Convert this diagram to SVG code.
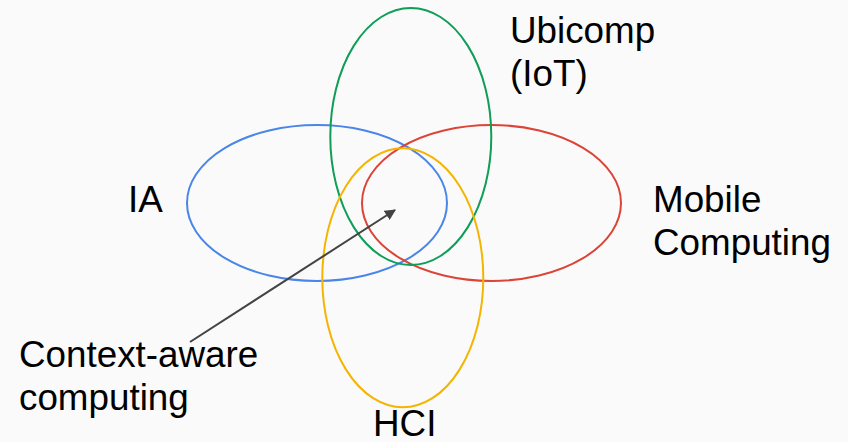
<svg xmlns="http://www.w3.org/2000/svg" width="848" height="442" viewBox="0 0 848 442">
<style>
.e{fill:none;stroke-width:2}
.t{font-family:"Liberation Sans",Arial,sans-serif;font-size:36.8px;fill:#000}
</style>
<defs>
<marker id="ah" viewBox="0 0 10 10" refX="9" refY="5" markerWidth="5.5" markerHeight="5.5" orient="auto" markerUnits="strokeWidth">
<path d="M0,0 L10,5 L0,10 z" fill="#434343"/>
</marker>
</defs>
<rect width="848" height="442" fill="#fafafa"/>
<g id="ia"><ellipse class="e" cx="317" cy="203" rx="130" ry="78" stroke="#4a86e8"/><text class="t" x="128" y="212">IA</text></g>
<g id="mobile"><ellipse class="e" cx="491.5" cy="203" rx="129.5" ry="78" stroke="#db4437"/><text class="t" x="653" y="212">Mobile</text><text class="t" x="653" y="255">Computing</text></g>
<g id="ubicomp"><ellipse class="e" cx="410.8" cy="136.5" rx="80.5" ry="128.5" stroke="#0f9d58"/><text class="t" x="510" y="43">Ubicomp</text><text class="t" x="510" y="86">(IoT)</text></g>
<g id="hci"><ellipse class="e" cx="402.8" cy="277.8" rx="80.5" ry="129.5" stroke="#f4b400"/><text class="t" x="373" y="436">HCI</text></g>
<g id="context"><text class="t" x="19" y="367">Context-aware</text><text class="t" x="19" y="410">computing</text></g>
<g id="connectors"><line x1="190" y1="342" x2="395" y2="210" stroke="#434343" stroke-width="2" marker-end="url(#ah)"/></g>
</svg>
